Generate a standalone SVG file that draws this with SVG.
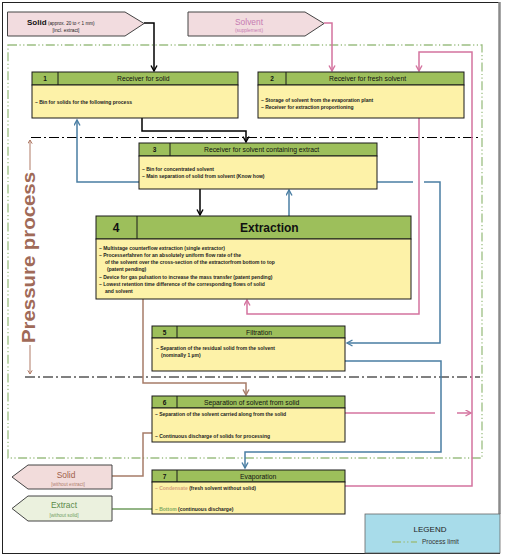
<svg xmlns="http://www.w3.org/2000/svg" width="505" height="557" viewBox="0 0 505 557">
<defs>
<style>
text{font-family:"Liberation Sans",Arial,sans-serif;}
.hd{fill:#9dbf5b;stroke:#1a1a1a;stroke-width:1;}
.bd{fill:#fdf2a8;stroke:#1a1a1a;stroke-width:1;}
.sp{stroke:#1a1a1a;stroke-width:1;}
.ht{font-size:6.8px;fill:#111;}
.nt{font-size:6.5px;font-weight:bold;fill:#111;text-anchor:middle;}
.bt{font-size:5px;font-weight:bold;fill:#222;}
.c{fill:none;stroke-width:1.5;}
.blk{stroke:#000;}
.blu{stroke:#4a7ea3;}
.pnk{stroke:#d4739f;}
.brn{stroke:#a67c68;}
.grn{stroke:#6f9c5e;}
.lim{fill:none;stroke:#9cbf83;stroke-width:1.3;stroke-dasharray:9 2.5 1.2 2.5 1.2 2.5;}
.pl{fill:none;stroke:#000;stroke-width:1;stroke-dasharray:10 3 2 3;}
</style>
<marker id="ab" markerUnits="userSpaceOnUse" markerWidth="8" markerHeight="8" refX="6" refY="3.5" orient="auto"><path d="M0.5,0.5 L6,3.5 L0.5,6.5" fill="none" stroke="#000" stroke-width="1.4"/></marker>
<marker id="au" markerUnits="userSpaceOnUse" markerWidth="8" markerHeight="8" refX="6" refY="3.5" orient="auto-start-reverse"><path d="M0.5,0.5 L6,3.5 L0.5,6.5" fill="none" stroke="#4a7ea3" stroke-width="1.4"/></marker>
<marker id="ap" markerUnits="userSpaceOnUse" markerWidth="8" markerHeight="8" refX="6" refY="3.5" orient="auto"><path d="M0.5,0.5 L6,3.5 L0.5,6.5" fill="none" stroke="#d4739f" stroke-width="1.4"/></marker>
<marker id="ar" markerUnits="userSpaceOnUse" markerWidth="8" markerHeight="8" refX="6" refY="3.5" orient="auto"><path d="M0.5,0.5 L6,3.5 L0.5,6.5" fill="none" stroke="#a67c68" stroke-width="1.4"/></marker>
<marker id="at" markerUnits="userSpaceOnUse" markerWidth="6" markerHeight="6" refX="4" refY="2.5" orient="auto"><path d="M0.3,0.3 L4,2.5 L0.3,4.7" fill="none" stroke="#b07a66" stroke-width="1"/></marker>
</defs>
<rect x="0" y="0" width="505" height="557" fill="#fff"/>
<rect x="2.5" y="2.5" width="497" height="551" fill="none" stroke="#222" stroke-width="1"/>
<line x1="499.5" y1="2" x2="499.5" y2="514" stroke="#8a8a8a" stroke-width="2.5"/>

<g id="process-limit"><rect class="lim" x="8" y="45" width="474" height="413"/></g>
<g id="pressure-lines">
<line class="pl" x1="31" y1="137.5" x2="478" y2="137.5"/>
<line class="pl" x1="25" y1="377" x2="480" y2="377"/>
</g>
<g id="pressure-label">
<text transform="translate(35,257.5) rotate(-90)" text-anchor="middle" font-size="18" font-weight="bold" fill="#a06a58" textLength="171" lengthAdjust="spacingAndGlyphs">Pressure process</text>
<line x1="30" y1="170" x2="30" y2="140" stroke="#b07a66" stroke-width="1" marker-end="url(#at)"/>
<line x1="30" y1="345" x2="30" y2="374" stroke="#b07a66" stroke-width="1" marker-end="url(#at)"/>
</g>

<g id="connectors">
<path class="c blk" d="M144,23 H154 V71" marker-end="url(#ab)"/>
<path class="c pnk" d="M324,23 H332 V71" marker-end="url(#ap)"/>
<path class="c blk" d="M142,118 V131 H246 V142" marker-end="url(#ab)"/>
<path class="c blu" d="M77,120 V182 H151" marker-start="url(#au)" marker-end="url(#au)"/>
<path class="c blk" d="M200,189 V215" marker-end="url(#ab)"/>
<path class="c blu" d="M289,216 V190" marker-end="url(#au)"/>
<path class="c blu" d="M347,182 H413"/>
<path class="c blu" d="M424,182 H440 V343 H347" marker-end="url(#au)"/>
<path class="c pnk" d="M419,118 V314 H247 V300" marker-end="url(#ap)"/>
<path class="c pnk" d="M345,486 H472 V52 H419 V71" marker-end="url(#ap)"/>
<path class="c blu" d="M345,361 H441 V452 H245 V468" marker-end="url(#au)"/>
<path class="c brn" d="M143,299 V383 H246 V395" marker-end="url(#ar)"/>
<path class="c pnk" d="M345,413 H435"/>
<path class="c pnk" d="M457,413 H471" stroke-width="1.2" marker-end="url(#ap)"/>
<path class="c brn" d="M152,433 H143 V476 H112"/>
<path class="c grn" d="M112,509 H152"/>
</g>

<g id="input-solid">
<path d="M7.5,12 H125 L144,23.5 L125,36 H7.5 Z" fill="#f2dcdf" stroke="#444" stroke-width="1"/>
<text x="27" y="25" font-size="8" font-weight="bold" fill="#111">Solid</text>
<text x="48" y="24.5" font-size="4.6" fill="#222">(approx. 20 to &lt; 1 mm)</text>
<text x="66" y="31.5" font-size="4.8" fill="#222" text-anchor="middle">[incl. extract]</text>
</g>
<g id="input-solvent">
<path d="M188,12 H305 L324,23.5 L305,36 H188 Z" fill="#f2dcdf" stroke="#444" stroke-width="1"/>
<text x="249" y="25" font-size="8.4" fill="#c67bb2" text-anchor="middle">Solvent</text>
<text x="249" y="31.5" font-size="4.8" fill="#c67bb2" text-anchor="middle">(supplement)</text>
</g>

<g id="box1">
<rect class="hd" x="32" y="72" width="206" height="13"/>
<rect class="bd" x="32" y="85" width="206" height="33"/>
<line class="sp" x1="58" y1="72" x2="58" y2="85"/>
<text class="nt" x="45" y="81">1</text>
<text class="ht" x="117" y="81">Receiver for solid</text>
<text class="bt" x="35" y="103.5">– Bin for solids for the following process</text>
</g>
<g id="box2">
<rect class="hd" x="258" y="72" width="206" height="13"/>
<rect class="bd" x="258" y="85" width="206" height="33"/>
<line class="sp" x1="286" y1="72" x2="286" y2="85"/>
<text class="nt" x="272" y="81">2</text>
<text class="ht" x="329" y="81">Receiver for fresh solvent</text>
<text class="bt" x="261" y="101.8">– Storage of solvent from the evaporation plant</text>
<text class="bt" x="261" y="108.8">– Receiver for extraction proportioning</text>
</g>
<g id="box3">
<rect class="hd" x="139" y="143" width="238" height="13"/>
<rect class="bd" x="139" y="156" width="238" height="33"/>
<line class="sp" x1="170" y1="143" x2="170" y2="156"/>
<text class="nt" x="154.5" y="152">3</text>
<text class="ht" x="204" y="152">Receiver for solvent containing extract</text>
<text class="bt" x="142" y="170.8">– Bin for concentrated solvent</text>
<text class="bt" x="142" y="177.8">– Main separation of solid from solvent (Know how)</text>
</g>
<g id="box4">
<rect class="hd" x="96" y="216" width="315" height="23"/>
<rect class="bd" x="96" y="239" width="315" height="60"/>
<line class="sp" x1="137" y1="216" x2="137" y2="239"/>
<text x="116" y="232" font-size="12" font-weight="bold" fill="#111" text-anchor="middle">4</text>
<text x="240" y="232" font-size="12" font-weight="bold" fill="#111">Extraction</text>
<text class="bt" x="99" y="249.8">– Multistage counterflow extraction (single extractor)</text>
<text class="bt" x="99" y="256.8">– Processerfahren for an absolutely uniform flow rate of the</text>
<text class="bt" x="105" y="263.8">of the solvent over the cross-section of the extractorfrom bottom to top</text>
<text class="bt" x="107" y="271.3">(patent pending)</text>
<text class="bt" x="99" y="278.8">– Device for gas pulsation to increase the mass transfer (patent pending)</text>
<text class="bt" x="99" y="285.8">– Lowest retention time difference of the corresponding flows of solid</text>
<text class="bt" x="105" y="292.8">and solvent</text>
</g>
<g id="box5">
<rect class="hd" x="152" y="326" width="193" height="12"/>
<rect class="bd" x="152" y="338" width="193" height="33"/>
<line class="sp" x1="177" y1="326" x2="177" y2="338"/>
<text class="nt" x="164.5" y="334.5">5</text>
<text class="ht" x="246" y="334.5">Filtration</text>
<text class="bt" x="156" y="349.8">– Separation of the residual solid from the solvent</text>
<text class="bt" x="161" y="356.8">(nominally 1 µm)</text>
</g>
<g id="box6">
<rect class="hd" x="152" y="396" width="193" height="12"/>
<rect class="bd" x="152" y="408" width="193" height="34"/>
<line class="sp" x1="177" y1="396" x2="177" y2="408"/>
<text class="nt" x="164.5" y="404.5">6</text>
<text class="ht" x="204" y="404.5">Separation of solvent from solid</text>
<text class="bt" x="155" y="415.8">– Separation of the solvent carried along from the solid</text>
<text class="bt" x="155" y="437.8">– Continuous discharge of solids for processing</text>
</g>
<g id="box7">
<rect class="hd" x="152" y="470" width="193" height="12"/>
<rect class="bd" x="152" y="482" width="193" height="32"/>
<line class="sp" x1="177" y1="470" x2="177" y2="482"/>
<text class="nt" x="164.5" y="478.5">7</text>
<text class="ht" x="240" y="478.5">Evaporation</text>
<text class="bt" x="155" y="489.8"><tspan fill="#d4a07a">– Condensate</tspan> (fresh solvent without solid)</text>
<text class="bt" x="155" y="510.8"><tspan fill="#7fa862">– Bottom</tspan> (continuous discharge)</text>
</g>

<g id="output-solid">
<path d="M112,465 H28 L12,477 L28,489 H112 Z" fill="#f2dcdb" stroke="#444" stroke-width="1"/>
<text x="66" y="477.5" font-size="8.4" fill="#a0604a" text-anchor="middle">Solid</text>
<text x="68" y="485.5" font-size="4.8" fill="#b08070" text-anchor="middle">[without extract]</text>
</g>
<g id="output-extract">
<path d="M112,496 H28 L12,508.5 L28,521 H112 Z" fill="#ebf1de" stroke="#444" stroke-width="1"/>
<text x="64" y="507.5" font-size="8.4" fill="#5a8a4a" text-anchor="middle">Extract</text>
<text x="64" y="516.5" font-size="4.8" fill="#6f9c5e" text-anchor="middle">[without solid]</text>
</g>

<g id="legend">
<rect x="365" y="514" width="135" height="39" fill="#a8dcea" stroke="#666" stroke-width="0.8"/>
<text x="430" y="532" font-size="8" fill="#222" text-anchor="middle">LEGEND</text>
<line class="lim" x1="392" y1="542" x2="417" y2="542"/>
<text x="422" y="544.3" font-size="6.5" fill="#333">Process limit</text>
</g>
</svg>
